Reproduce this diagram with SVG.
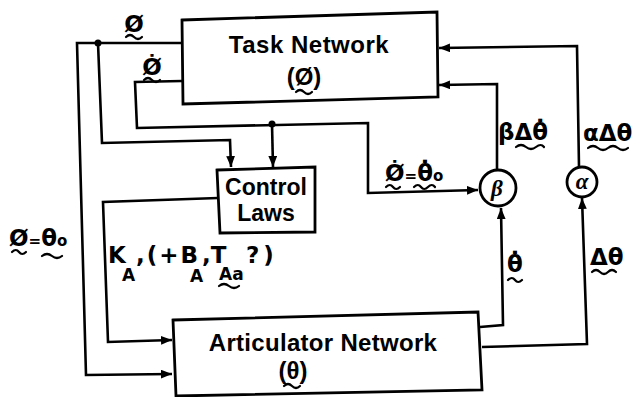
<svg xmlns="http://www.w3.org/2000/svg" width="643" height="397" viewBox="0 0 643 397">
<defs>
<style>
.ln{fill:none;stroke:#000;stroke-width:2.6;stroke-linejoin:miter}
.box{fill:#fff;stroke:#000;stroke-width:2.8}
.t{font-family:"Liberation Sans",Arial,sans-serif;font-weight:bold;fill:#000}
.lb{font-family:"DejaVu Sans","Liberation Sans",sans-serif;font-weight:bold;fill:#000;font-size:23px}
.sub{font-family:"DejaVu Sans","Liberation Sans",sans-serif;font-weight:bold;fill:#000;font-size:17px}
.gk{font-family:"Liberation Serif",serif;font-style:italic;font-weight:bold;font-size:23px;fill:#000}
.sq{fill:none;stroke:#000;stroke-width:2.2;stroke-linecap:round}
</style>
<marker id="ah" viewBox="0 0 10 8" refX="10" refY="4" markerWidth="11" markerHeight="9" orient="auto" markerUnits="userSpaceOnUse"><path d="M0,0 L10,4 L0,8 z" fill="#000"/></marker>
</defs>
<rect width="643" height="397" fill="#fff"/>
<g id="connectors">
<path class="ln" d="M182,43 L77,43 L86,375 L172,374" marker-end="url(#ah)"/>
<path class="ln" d="M98,43 L102,143 L230,140 L231,167" marker-end="url(#ah)"/>
<circle cx="98" cy="43" r="3.5"/>
<path class="ln" d="M182,81 L135,82 L137,128 L368,123 L368,193 L478,190" marker-end="url(#ah)"/>
<circle cx="272" cy="124" r="3.5"/>
<path class="ln" d="M272,124 L273,167" marker-end="url(#ah)"/>
<path class="ln" d="M218,198 L103,202 L108,342 L172,340" marker-end="url(#ah)"/>
<path class="ln" d="M480,327 L503,325 L501,208" marker-end="url(#ah)"/>
<path class="ln" d="M482,347 L587,344 L582,198" marker-end="url(#ah)"/>
<path class="ln" d="M497,170 L497,84 L439,85" marker-end="url(#ah)"/>
<path class="ln" d="M579,167 L577,46 L439,48" marker-end="url(#ah)"/>
</g>
<g id="task-network">
<path class="box" d="M182,20 L437,12 L438,97 L183,104 Z"/>
<text class="t" x="309" y="53" font-size="24" text-anchor="middle" letter-spacing="0.5">Task Network</text>
<text class="t" x="304" y="85" font-size="24" text-anchor="middle">(Ø)</text>
<path class="sq" d="M296,92 q4,-4 8,0 t8,0"/>
</g>
<g id="control-laws">
<path class="box" d="M217,170 L315,167 L315,232 L220,233 Z"/>
<text class="t" x="266" y="195" font-size="23" text-anchor="middle">Control</text>
<text class="t" x="266" y="221" font-size="23" text-anchor="middle">Laws</text>
</g>
<g id="articulator-network">
<path class="box" d="M173,320 L478,312 L482,390 L176,396 Z"/>
<text class="t" x="323" y="351" font-size="24" text-anchor="middle" letter-spacing="0.3">Articulator Network</text>
<text class="t" x="293" y="379" font-size="24" text-anchor="middle">(θ)</text>
<path class="sq" d="M284,386 q4,-4 8,0 t8,0"/>
</g>
<g id="beta">
<circle class="box" cx="498" cy="188" r="18"/>
<text class="gk" x="497" y="196" text-anchor="middle">β</text>
</g>
<g id="alpha">
<circle class="box" cx="582" cy="182" r="15"/>
<text class="gk" x="582" y="189" text-anchor="middle">α</text>
</g>
<g id="labels">
<text class="lb" x="134" y="32" text-anchor="middle">Ø</text>
<path class="sq" d="M126,37 q4,-4 8,0 t8,0"/>
<text class="lb" x="152" y="75" text-anchor="middle">Ø̇</text>
<path class="sq" d="M144,80 q4,-4 8,0 t8,0"/>
<text class="lb" x="385" y="181">Ø̇<tspan font-size="15">=</tspan>θ̇<tspan font-size="15">o</tspan></text>
<path class="sq" d="M386,187 q4,-4 7,0 t7,0"/>
<path class="sq" d="M414,187 q4,-4 7,0 t7,0 t7,0"/>
<text class="lb" x="498" y="140">βΔθ̇</text>
<path class="sq" d="M516,147 q5,-4 10,0 t10,0 t8,0"/>
<text class="lb" x="583" y="141">αΔθ</text>
<path class="sq" d="M588,148 q5,-4 10,0 t10,0 t10,0 t10,0"/>
<text class="lb" x="507" y="272">θ̇</text>
<path class="sq" d="M508,280 q4,-4 7,0 t7,0"/>
<text class="lb" x="590" y="265">Δθ</text>
<path class="sq" d="M592,272 q4,-4 8,0 t8,0 t8,0"/>
<text class="lb" x="9" y="246">Ø<tspan font-size="15">=</tspan>θ<tspan font-size="15">o</tspan></text>
<path class="sq" d="M12,252 q4,-4 7,0 t7,0"/>
<path class="sq" d="M42,256 q5,-4 10,0 t10,0"/>
<text class="lb" x="108" y="263">K</text>
<text class="sub" x="122" y="281">A</text>
<text class="lb" x="136" y="263" letter-spacing="2">,(+B</text>
<text class="sub" x="190" y="282">A</text>
<text class="lb" x="202" y="263">,T</text>
<text class="sub" x="219" y="280">Aa</text>
<path class="sq" d="M219,286 q5,-4 10,0 t10,0"/>
<text class="lb" x="246" y="263" letter-spacing="4">?)</text>
</g>
</svg>
